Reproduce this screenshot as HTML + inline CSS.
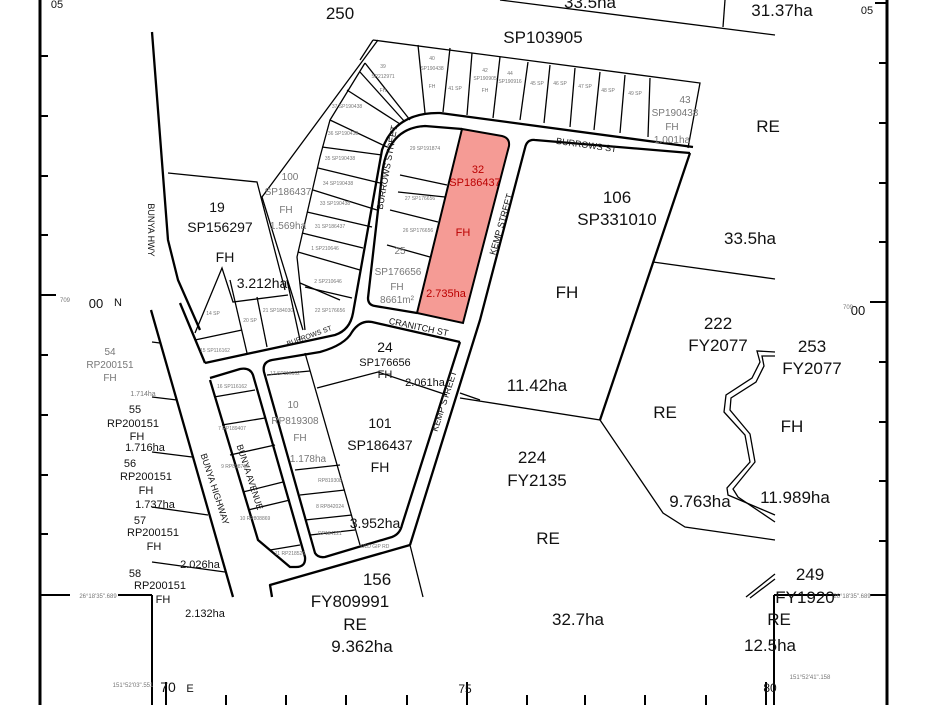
<!DOCTYPE html>
<html><head><meta charset="utf-8"><style>
html,body{margin:0;padding:0;background:#fff;}
svg{display:block;font-family:"Liberation Sans",Arial,sans-serif;}
.t{fill:#111;text-anchor:middle;}
.g{fill:#777;text-anchor:middle;}
</style></head><body>
<svg width="940" height="705" viewBox="0 0 940 705" xmlns="http://www.w3.org/2000/svg">
<rect width="940" height="705" fill="#fff"/>
<g stroke="#000" stroke-width="3" fill="none">
<line x1="40" y1="0" x2="40" y2="705"/>
<line x1="887" y1="0" x2="887" y2="705"/>
</g>
<g stroke="#000" stroke-width="2" fill="none">
<line x1="40" y1="56" x2="48" y2="56"/><line x1="40" y1="116" x2="48" y2="116"/><line x1="40" y1="176" x2="48" y2="176"/><line x1="40" y1="235" x2="48" y2="235"/>
<line x1="40" y1="295" x2="56" y2="295"/><line x1="40" y1="355" x2="48" y2="355"/><line x1="40" y1="415" x2="48" y2="415"/><line x1="40" y1="475" x2="48" y2="475"/><line x1="40" y1="534" x2="48" y2="534"/>
<line x1="40" y1="595" x2="70" y2="595"/><line x1="118" y1="595" x2="152" y2="595"/><line x1="152" y1="595" x2="152" y2="705"/>
<line x1="887" y1="3" x2="875" y2="3"/><line x1="887" y1="63" x2="879" y2="63"/><line x1="887" y1="123" x2="879" y2="123"/><line x1="887" y1="183" x2="879" y2="183"/><line x1="887" y1="242" x2="879" y2="242"/>
<line x1="887" y1="302" x2="870" y2="302"/><line x1="887" y1="362" x2="879" y2="362"/><line x1="887" y1="422" x2="879" y2="422"/><line x1="887" y1="481" x2="879" y2="481"/><line x1="887" y1="541" x2="879" y2="541"/>
<line x1="887" y1="595" x2="870" y2="595"/><line x1="840" y1="595" x2="774" y2="595"/><line x1="774" y1="595" x2="774" y2="705"/>
<line x1="166" y1="682" x2="166" y2="705"/><line x1="226" y1="695" x2="226" y2="705"/><line x1="286" y1="695" x2="286" y2="705"/><line x1="346" y1="695" x2="346" y2="705"/><line x1="407" y1="695" x2="407" y2="705"/>
<line x1="467" y1="682" x2="467" y2="705"/><line x1="527" y1="695" x2="527" y2="705"/><line x1="585" y1="695" x2="585" y2="705"/><line x1="645" y1="695" x2="645" y2="705"/><line x1="706" y1="695" x2="706" y2="705"/><line x1="766" y1="682" x2="766" y2="705"/>
</g>
<path d="M462,129 L502,136 Q510,138 509,146 L463,323 L417,313 Z" fill="#f59b95" stroke="#000" stroke-width="2"/>
<g stroke="#000" stroke-width="2.3" fill="none" stroke-linejoin="round">
<polyline points="152,32 168,240 178,280 200,330"/>
<polyline points="151,310 233,597"/>
<path d="M693,147 L440,113 Q395,112 382,150 L353,313 Q350,330 335,335 L205,363"/>
<path d="M462,129 L425,126 Q387,128 382,175 L368,298 Q368,305 375,306 L417,313"/>
<path d="M690,153 L535,140 Q527,139 525,148 L480,320 L410,545"/>
<path d="M690,153 L600,420"/>
<path d="M460,342 L372,322 Q360,320 352,332 Q345,345 320,352 L272,360 Q262,362 264,372 L315,553 Q318,558 325,557 L392,537 Q400,534 402,525 L460,342"/>
<path d="M210,378 L240,369 Q250,367 253,375 L305,557 Q306,567 296,567 L290,567 L258,540 L210,380"/>
<polyline points="410,545 270,585 272,597"/>
<polyline points="180,303 205,363"/>
</g>
<g stroke="#000" stroke-width="1.3" fill="none">
<polyline points="500,0 775,35"/>
<line x1="725" y1="0" x2="723" y2="27"/>
<line x1="653" y1="262" x2="775" y2="279"/>
<polyline points="460,398 600,420 663,513 685,527 775,540"/>
<line x1="410" y1="545" x2="423" y2="597"/>
<polyline points="373,40 700,83 688,148"/>
<line x1="373" y1="40" x2="360" y2="60"/>
<line x1="418" y1="45" x2="425" y2="113"/><line x1="450" y1="48" x2="443" y2="112"/><line x1="472" y1="53" x2="467" y2="115"/><line x1="500" y1="57" x2="493" y2="118"/><line x1="528" y1="62" x2="520" y2="120"/><line x1="550" y1="65" x2="544" y2="123"/><line x1="575" y1="68" x2="570" y2="127"/><line x1="600" y1="72" x2="594" y2="130"/><line x1="625" y1="75" x2="620" y2="133"/><line x1="650" y1="78" x2="648" y2="137"/>
<polyline points="378,40 262,197 303,330"/>
<polyline points="168,173 257,182 285,290"/>
<polyline points="365,63 330,120 320,157 297,257 305,330"/>
<line x1="365" y1="63" x2="410" y2="120"/><line x1="360" y1="72" x2="405" y2="122"/><line x1="347" y1="90" x2="400" y2="124"/>
<line x1="330" y1="120" x2="387" y2="147"/><line x1="322" y1="147" x2="382" y2="155"/><line x1="318" y1="168" x2="380" y2="183"/><line x1="313" y1="190" x2="377" y2="210"/><line x1="307" y1="212" x2="372" y2="227"/><line x1="302" y1="233" x2="363" y2="248"/><line x1="298" y1="252" x2="360" y2="270"/><line x1="305" y1="287" x2="352" y2="298"/>
<line x1="400" y1="175" x2="447" y2="185"/><line x1="398" y1="192" x2="445" y2="197"/><line x1="390" y1="210" x2="438" y2="222"/><line x1="387" y1="245" x2="430" y2="257"/>
<polyline points="195,333 222,268 233,302 288,295"/>
<line x1="195" y1="340" x2="242" y2="330"/><line x1="230" y1="280" x2="247" y2="353"/><line x1="257" y1="297" x2="267" y2="347"/><line x1="287" y1="280" x2="300" y2="340"/><line x1="300" y1="283" x2="340" y2="300"/>
<line x1="305" y1="353" x2="360" y2="545"/>
<polyline points="317,388 378,372 447,395"/>
<line x1="460" y1="393" x2="480" y2="400"/>
<line x1="267" y1="375" x2="310" y2="371"/><line x1="295" y1="470" x2="340" y2="465"/><line x1="300" y1="495" x2="345" y2="490"/><line x1="305" y1="520" x2="352" y2="515"/><line x1="310" y1="535" x2="355" y2="530"/>
<line x1="214" y1="397" x2="255" y2="390"/><line x1="222" y1="425" x2="265" y2="418"/><line x1="230" y1="455" x2="275" y2="445"/><line x1="243" y1="492" x2="283" y2="482"/><line x1="248" y1="510" x2="290" y2="500"/><line x1="270" y1="550" x2="300" y2="545"/>
<line x1="152" y1="342" x2="160" y2="343"/><line x1="152" y1="397" x2="177" y2="400"/><line x1="152" y1="452" x2="192" y2="457"/><line x1="152" y1="507" x2="208" y2="515"/><line x1="152" y1="562" x2="225" y2="572"/>
<path d="M775,352 L757,351 L760,362 L752,378 L726,395 L724,412 L745,435 L750,462 L727,488 L728,495 L775,515" />
<path d="M775,356 L762,356 L764,366 L756,382 L731,398 L730,410 L750,434 L755,462 L733,489 L738,497 L775,522" />
<line x1="746" y1="597" x2="775" y2="574"/><line x1="750" y1="598" x2="775" y2="579"/>
</g>
<g class="t" font-size="17">
<text x="340" y="19">250</text>
<text x="543" y="43">SP103905</text>
<text x="782" y="16">31.37ha</text>
<text x="590" y="8">33.5ha</text>
<text x="768" y="132">RE</text>
<text x="617" y="203">106</text>
<text x="617" y="225">SP331010</text>
<text x="567" y="298">FH</text>
<text x="750" y="244">33.5ha</text>
<text x="537" y="391">11.42ha</text>
<text x="718" y="329">222</text>
<text x="718" y="351">FY2077</text>
<text x="812" y="352">253</text>
<text x="812" y="374">FY2077</text>
<text x="665" y="418">RE</text>
<text x="792" y="432">FH</text>
<text x="532" y="463">224</text>
<text x="537" y="486">FY2135</text>
<text x="700" y="507">9.763ha</text>
<text x="795" y="503">11.989ha</text>
<text x="548" y="544">RE</text>
<text x="578" y="625">32.7ha</text>
<text x="810" y="580">249</text>
<text x="805" y="603">FY1920</text>
<text x="779" y="625">RE</text>
<text x="770" y="651">12.5ha</text>
<text x="377" y="585">156</text>
<text x="350" y="607">FY809991</text>
<text x="355" y="630">RE</text>
<text x="362" y="652">9.362ha</text>
</g>
<g class="t" font-size="14">
<text x="217" y="212">19</text><text x="220" y="232">SP156297</text><text x="225" y="262">FH</text>
<text x="262" y="288">3.212ha</text>
<text x="380" y="428">101</text><text x="380" y="450">SP186437</text><text x="380" y="472">FH</text>
<text x="375" y="528">3.952ha</text>
<text x="385" y="352">24</text><text x="385" y="366" font-size="11">SP176656</text><text x="385" y="378" font-size="11">FH</text>
<text x="425" y="386" font-size="11">2.061ha</text>
</g>
<g class="t" font-size="11">
<text x="135" y="413">55</text><text x="133" y="427">RP200151</text><text x="137" y="440">FH</text>
<text x="130" y="467">56</text><text x="146" y="480">RP200151</text><text x="146" y="494">FH</text>
<text x="140" y="524">57</text><text x="153" y="536">RP200151</text><text x="154" y="550">FH</text>
<text x="135" y="577">58</text><text x="160" y="589">RP200151</text><text x="163" y="603">FH</text>
<text x="145" y="451">1.716ha</text><text x="155" y="508">1.737ha</text><text x="200" y="568">2.026ha</text><text x="205" y="617">2.132ha</text>
<text x="96" y="308" font-size="13">00</text><text x="118" y="306">N</text>
<text x="858" y="315" font-size="13">00</text>
<text x="867" y="14">05</text><text x="57" y="8">05</text>
<text x="168" y="692" font-size="14">70</text><text x="190" y="692">E</text>
<text x="465" y="693" font-size="12">75</text><text x="770" y="692" font-size="12">80</text>
</g>
<g class="g" font-size="6"><text x="65" y="302">709</text><text x="848" y="309">709</text></g>
<g fill="#b00" font-size="11" text-anchor="middle">
<text x="478" y="173">32</text><text x="475" y="186">SP186437</text><text x="463" y="236">FH</text><text x="446" y="297">2.735ha</text>
</g>
<g class="g" font-size="10">
<text x="400" y="254">25</text><text x="398" y="275">SP176656</text><text x="397" y="290">FH</text><text x="397" y="303">8661m²</text>
<text x="290" y="180">100</text><text x="288" y="195">SP186437</text><text x="286" y="213">FH</text><text x="288" y="229">1.569ha</text>
<text x="293" y="408">10</text><text x="295" y="424">RP819308</text><text x="300" y="441">FH</text><text x="308" y="462">1.178ha</text>
<text x="685" y="103">43</text><text x="675" y="116">SP190438</text><text x="672" y="130">FH</text><text x="672" y="143">1.001ha</text>
<text x="110" y="355">54</text><text x="110" y="368">RP200151</text><text x="110" y="381">FH</text>
<text x="143" y="396" font-size="7">1.714ha</text>
<text x="133" y="687" font-size="6">151°52'03".551</text><text x="810" y="679" font-size="6">151°52'41".158</text>
<text x="98" y="598" font-size="6">26°18'35".689</text><text x="852" y="598" font-size="6">26°18'35".689</text>
</g>
<g class="t" font-size="9" fill="#222">
<text transform="translate(148,230) rotate(90)">BUNYA HWY</text>
<text transform="translate(212,490) rotate(72)">BUNYA HIGHWAY</text>
<text transform="translate(247,478) rotate(72)">BUNYA AVENUE</text>
<text transform="translate(390,168) rotate(-80)">BURROWS STREET</text>
<text transform="translate(504,225) rotate(-74)">KEMP STREET</text>
<text transform="translate(447,402) rotate(-72)">KEMP STREET</text>
<text transform="translate(418,330) rotate(12)">CRANITCH ST</text>
<text transform="translate(586,148) rotate(8)">BURROWS ST</text>
<text transform="translate(310,338) rotate(-20)" font-size="7">BURROWS ST</text>
</g>
<g class="g" font-size="5">
<text x="383" y="68">39</text><text x="383" y="78">SP212971</text><text x="383" y="92">FH</text>
<text x="432" y="60">40</text><text x="432" y="70">SP190438</text><text x="432" y="88">FH</text>
<text x="455" y="90">41 SP</text><text x="485" y="72">42</text><text x="485" y="80">SP190905</text><text x="485" y="92">FH</text>
<text x="510" y="75">44</text><text x="510" y="83">SP190916</text><text x="537" y="85">45 SP</text><text x="560" y="85">46 SP</text><text x="585" y="88">47 SP</text><text x="608" y="92">48 SP</text><text x="635" y="95">49 SP</text>
<text x="347" y="108">37 SP190438</text><text x="343" y="135">36 SP190438</text><text x="340" y="160">35 SP190438</text><text x="338" y="185">34 SP190438</text><text x="335" y="205">33 SP190438</text><text x="330" y="228">31 SP186437</text><text x="325" y="250">1 SP210646</text><text x="328" y="283">2 SP210646</text><text x="330" y="312">22 SP176656</text>
<text x="425" y="150">29 SP191874</text><text x="420" y="200">27 SP176656</text><text x="418" y="232">26 SP176656</text>
<text x="213" y="315">14 SP</text><text x="250" y="322">20 SP</text><text x="278" y="312">21 SP184030</text><text x="215" y="352">15 SP116162</text>
<text x="285" y="375">17 SP116162</text><text x="232" y="388">16 SP116162</text><text x="232" y="430">7 RP189407</text><text x="235" y="468">9 RP898790</text><text x="255" y="520">10 RP808869</text><text x="290" y="555">11 RP218526</text>
<text x="330" y="482">RP819308</text><text x="330" y="508">8 RP842024</text><text x="330" y="535">RP184221</text><text x="375" y="548">OLD GIP RD</text>
</g>
</svg>
</body></html>
